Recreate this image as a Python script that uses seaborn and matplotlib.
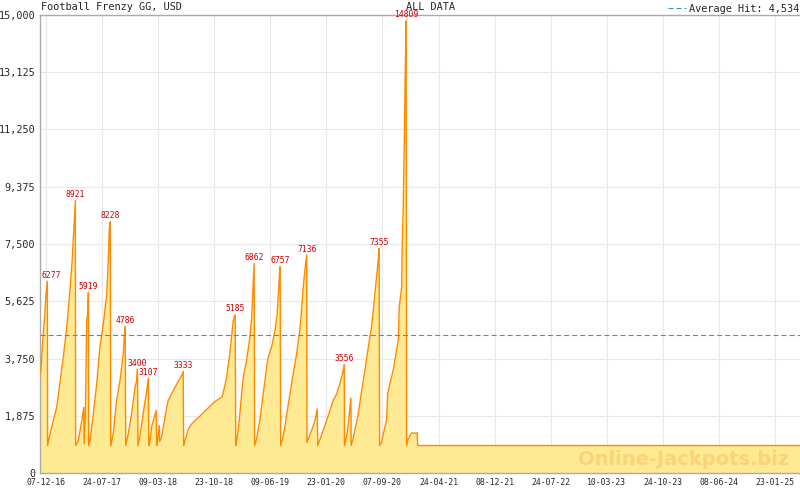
import pandas as pd
import numpy as np
import matplotlib
matplotlib.use('Agg')
import matplotlib.pyplot as plt
import matplotlib.dates as mdates
import seaborn as sns

start_date = '2016-11-13'
end_date = '2025-05-05'

days = [0, 4, 8, 13, 19, 24, 30, 31,
        41, 54, 68, 81, 95, 109, 122, 131, 140, 144, 145,
        156, 163, 170, 178, 180, 185, 190, 194, 197, 198,
        204, 217, 231, 244, 258, 272, 278, 282, 286, 288,
        298, 312, 326, 339, 343, 347, 349,
        359, 373, 387, 394, 397, 399,
        406, 414, 421, 427, 434, 441, 443,
        447, 455, 468, 473, 475, 479, 486, 487, 495, 502, 509, 516, 522, 536, 550, 563, 577, 583, 585,
        590, 597, 604, 618, 631, 658, 685, 712, 742, 753, 760, 773, 780, 787, 795, 797,
        801, 807, 814, 821, 828, 841, 855, 862, 866, 871, 872, 874,
        882, 889, 896, 909, 923, 929, 943, 957, 966, 972, 977, 978, 980,
        988, 997, 1007, 1018, 1031, 1045, 1058, 1065, 1072, 1080, 1086, 1087,
        1092, 1106, 1120, 1129, 1131,
        1140, 1153, 1167, 1181, 1194, 1208, 1221, 1232, 1239, 1240,
        1249, 1258, 1266, 1267,
        1273, 1282, 1296, 1310, 1323, 1337, 1350, 1360, 1368, 1377, 1381, 1383,
        1391, 1398, 1411, 1416, 1425, 1438, 1445, 1452, 1459, 1463, 1473, 1475, 1479, 1483, 1487, 1491, 1493,
        1499, 1513, 1536, 1538, 3095]

values = [3250, 3355, 3900, 4560, 5110, 5820, 6277, 900,
          1280, 1715, 2150, 2920, 3790, 4780, 5980, 6960, 8280, 8921, 900,
          1060, 1390, 1715, 2150, 950, 2000, 5000, 5210, 5919, 900,
          1060, 1935, 2920, 4120, 4890, 5870, 6960, 7950, 8228, 900,
          1280, 2370, 3030, 3900, 4450, 4786, 900,
          1260, 1935, 2810, 3030, 3400, 900,
          1167, 1607, 1988, 2316, 2643, 3107, 900,
          1000, 1527, 1900, 2050, 900, 1100, 1550, 1030, 1167, 1495, 1823, 2150, 2371, 2590, 2807, 3000, 3191, 3333, 900,
          1060, 1223, 1443, 1607, 1715, 1912, 2131, 2338, 2502, 2862, 3135, 3900, 4450, 5000, 5185, 900,
          1060, 1388, 1935, 2590, 3135, 3680, 4450, 5100, 5820, 6750, 6862, 900,
          1110, 1440, 1770, 2590, 3460, 3790, 4120, 4670, 5220, 6090, 6750, 6757, 900,
          1110, 1500, 2040, 2590, 3240, 3900, 4670, 5320, 6090, 6750, 7136, 1000,
          1100, 1388, 1717, 2100, 900,
          1100, 1390, 1717, 2045, 2370, 2590, 2920, 3250, 3556, 900,
          1200, 1800, 2450, 900,
          1060, 1390, 1935, 2700, 3350, 4120, 4780, 5540, 6200, 6960, 7355, 900,
          1000, 1280, 1715, 2590, 2920, 3355, 3680, 4010, 4340, 5430, 6090, 7400, 8600, 10570, 12920, 14809, 900,
          1100, 1310, 1310, 900, 900]

average_hit = 4534
y_ticks = [0, 1875, 3750, 5625, 7500, 9375, 11250, 13125, 15000]
tick_dates = ['2016-12-07', '2017-07-24', '2018-03-09', '2018-10-23', '2019-06-09',
              '2020-01-23', '2020-09-07', '2021-04-24', '2021-12-08', '2022-07-24',
              '2023-03-10', '2023-10-24', '2024-06-08', '2025-01-23']
tick_labels = ['07-12-16', '24-07-17', '09-03-18', '23-10-18', '09-06-19',
               '23-01-20', '07-09-20', '24-04-21', '08-12-21', '24-07-22',
               '10-03-23', '24-10-23', '08-06-24', '23-01-25']

dados = pd.DataFrame({
    'date': pd.to_datetime(start_date) + pd.to_timedelta(days, unit='D'),
    'value': values,
})

sns.set_style('white')
plt.rcParams['font.family'] = ['DejaVu Sans Mono']
plt.rcParams['lines.scale_dashes'] = False

fig = plt.figure(figsize=(8, 4.9), dpi=100)
ax = fig.add_axes([40 / 800, 17 / 490, 760 / 800, 458 / 490])

ax.fill_between(dados['date'], dados['value'], 0, color='#feea92', linewidth=0, zorder=1)
sns.lineplot(x='date', y='value', data=dados, color='#ff8a00', linewidth=1.0, ax=ax, zorder=3)
ax.axhline(average_hit, color='#3b94c6', linewidth=0.8, dashes=(3.6, 2.2), zorder=4,
           label=f'Average Hit: {average_hit:,}')

# marca d'agua
ax.text(0.9855, 0.0175, 'Online-Jackpots.biz', transform=ax.transAxes, ha='right', va='baseline',
        fontsize=14, fontweight='bold', family='DejaVu Sans', color='#fcd27a', zorder=2)

# rótulos dos picos
x0 = pd.to_datetime(start_date)
for i in range(len(values) - 1):
    if values[i] >= 3000 and values[i + 1] < values[i] - 1000:
        d = dados['date'].iloc[i]
        if (d - x0).days < 40:
            ax.annotate(str(values[i]), xy=(x0, values[i]), xytext=(1, 1), textcoords='offset points',
                        ha='left', va='bottom', fontsize=5.8, color='#cc0000', zorder=5)
        else:
            ax.annotate(str(values[i]), xy=(d, values[i]), xytext=(0, 1), textcoords='offset points',
                        ha='center', va='bottom', fontsize=5.8, color='#cc0000', zorder=5,
                        annotation_clip=False)

ax.set_xlim(pd.to_datetime(start_date), pd.to_datetime(end_date))
ax.set_ylim(0, 15000)
ax.set_yticks(y_ticks)
ax.set_yticklabels([f'{v:,}' for v in y_ticks], fontsize=7.3, va='center_baseline')
major = pd.to_datetime(tick_dates)
ax.set_xticks(major)
ax.set_xticklabels(tick_labels, fontsize=5.9)
mnum = mdates.date2num(major)
step = (mnum[1] - mnum[0]) / 7
minor = np.arange(mnum[0] - 7 * step, mnum[-1] + 7 * step, step)
minor = [m for m in minor if mdates.date2num(pd.to_datetime(start_date)) < m < mdates.date2num(pd.to_datetime(end_date))]
ax.set_xticks(minor, minor=True)

ax.tick_params(axis='x', which='major', direction='in', length=4.2, width=0.8, color='#aaaaaa', pad=3.5)
ax.tick_params(axis='x', which='minor', direction='in', length=2.9, width=0.8, color='#aaaaaa')
ax.tick_params(axis='y', which='major', direction='out', length=3, width=0.8, color='#aaaaaa', pad=0.5)
ax.grid(True, which='major', color='#e8e8e8', linewidth=0.8, zorder=0)
ax.set_axisbelow(True)
ax.set_xlabel('')
ax.set_ylabel('')

for s in ['left', 'bottom', 'top']:
    ax.spines[s].set_color('#aaaaaa')
    ax.spines[s].set_linewidth(1.0)
ax.spines['right'].set_visible(False)

fig.text(40.7 / 800, 1 - 7 / 490, 'Football Frenzy GG, USD', ha='left', va='center', fontsize=7.4)
fig.text(405.7 / 800, 1 - 7 / 490, 'ALL DATA', ha='left', va='center', fontsize=7.4)
ax.legend(loc='lower right', bbox_to_anchor=(1.0, 1.0), frameon=False, borderaxespad=0.1, borderpad=0,
          handlelength=1.7, handletextpad=0.3, fontsize=7.4)

fig.savefig('out.png', dpi=100)
